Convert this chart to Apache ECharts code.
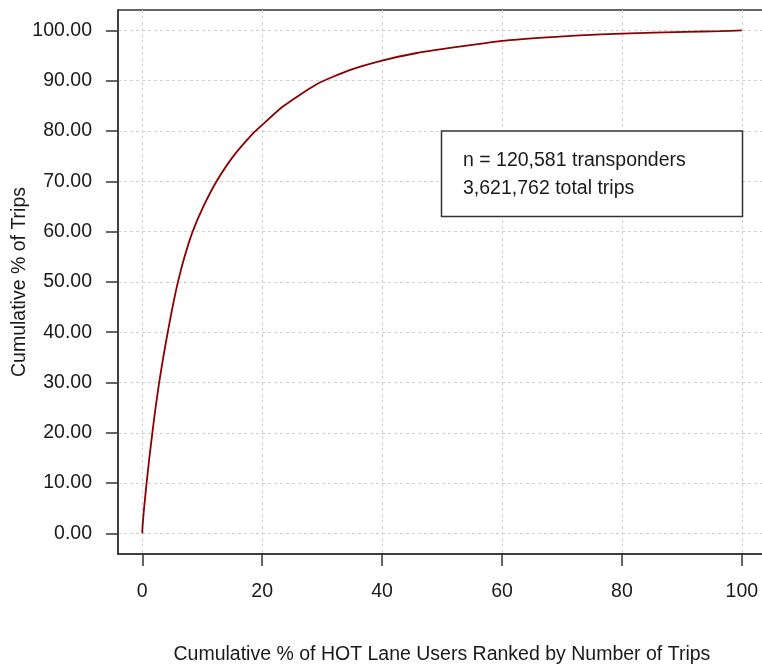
<!DOCTYPE html>
<html>
<head>
<meta charset="utf-8">
<script src="https://cdn.jsdelivr.net/npm/echarts@6/dist/echarts.min.js"></script>
<style>
  html, body { margin: 0; padding: 0; background: #ffffff; }
  #chart { width: 762px; height: 665px; }
</style>
</head>
<body>
<div id="chart"></div>
<script>
// Cumulative % of HOT lane users (ranked by number of trips)
const usersPct = [0, 0.05, 0.3, 0.72, 1.18, 1.68, 2.22, 2.82, 3.5, 4.25, 5.05, 5.95, 7.05, 8.4, 10.2, 12.4, 15.2, 18.7, 20, 23.5, 29.1, 34.6, 40, 45.8, 51.3, 56.3, 60, 67.5, 73, 80, 90.7, 96.3, 100];
// Cumulative % of trips
const tripsPct = [0, 1.5, 5, 10, 15, 20, 25, 30, 35, 40, 45, 50, 55, 60, 65, 70, 75, 79.8, 81.2, 84.9, 89.3, 92.1, 94.0, 95.5, 96.5, 97.3, 97.9, 98.6, 99.0, 99.35, 99.7, 99.85, 100];

const xTicks = [0, 20, 40, 60, 80, 100];
const yTicks = [0, 10, 20, 30, 40, 50, 60, 70, 80, 90, 100];

const noteLines = ['n = 120,581 transponders', '3,621,762 total trips'];
const xTitle = 'Cumulative % of HOT Lane Users Ranked by Number of Trips';
const yTitle = 'Cumulative % of Trips';

const FONT = '"Liberation Sans", Arial, Helvetica, sans-serif';
const FS = 19.5;
const TXT = '#1a1a1a';
const AX = '#333333';

const chart = echarts.init(document.getElementById('chart'), null, { renderer: 'canvas' });

const data = usersPct.map((x, i) => [x, tripsPct[i]]);

const option = {
  backgroundColor: '#ffffff',
  animation: false,
  grid: {
    left: 118, top: 10, width: 647.8, height: 544,
    show: true, borderColor: AX, borderWidth: 1.5, backgroundColor: 'transparent',
    containLabel: false, outerBoundsMode: 'none'
  },
  xAxis: {
    type: 'value', min: -4.05, max: 104,
    name: xTitle, nameLocation: 'middle', nameGap: 91, nameMoveOverlap: false,
    nameTextStyle: { fontFamily: FONT, fontSize: FS, color: TXT },
    axisLine: { show: true, onZero: false, lineStyle: { color: AX, width: 1.5 } },
    axisTick: { show: true, inside: false, length: 12, customValues: xTicks, lineStyle: { color: AX, width: 1.5 } },
    axisLabel: { show: true, customValues: xTicks, margin: 28, fontFamily: FONT, fontSize: FS, color: TXT,
      formatter: v => String(v) },
    splitLine: { show: true, lineStyle: { color: '#d0d0d0', width: 1, type: [3, 3] } }
  },
  yAxis: {
    type: 'value', min: -4.1, max: 104.05,
    name: yTitle, nameLocation: 'middle', nameGap: 88, nameRotate: 90, nameMoveOverlap: false,
    nameTextStyle: { fontFamily: FONT, fontSize: FS, color: TXT },
    axisLine: { show: true, onZero: false, lineStyle: { color: AX, width: 1.5 } },
    axisTick: { show: true, inside: false, length: 12, customValues: yTicks, lineStyle: { color: AX, width: 1.5 } },
    axisLabel: { show: true, customValues: yTicks, margin: 26, fontFamily: FONT, fontSize: FS, color: TXT,
      formatter: v => Number(v).toFixed(2) },
    splitLine: { show: true, lineStyle: { color: '#d0d0d0', width: 1, type: [3, 3] } }
  },
  series: [{
    type: 'line',
    data: data,
    showSymbol: false,
    smooth: 0.2,
    lineStyle: { color: '#8B0000', width: 1.8 },
    z: 3
  }],
  graphic: [
    {
      type: 'rect', z: 10,
      shape: { x: 441.5, y: 131, width: 301, height: 85.5 },
      style: { fill: '#ffffff', stroke: AX, lineWidth: 1.5 }
    },
    {
      type: 'text', z: 11, x: 463, y: 160.7,
      style: { text: noteLines[0], font: FS + 'px ' + FONT, fill: TXT, verticalAlign: 'middle', align: 'left' }
    },
    {
      type: 'text', z: 11, x: 463, y: 188.3,
      style: { text: noteLines[1], font: FS + 'px ' + FONT, fill: TXT, verticalAlign: 'middle', align: 'left' }
    }
  ]
};

chart.setOption(option);
</script>
</body>
</html>
